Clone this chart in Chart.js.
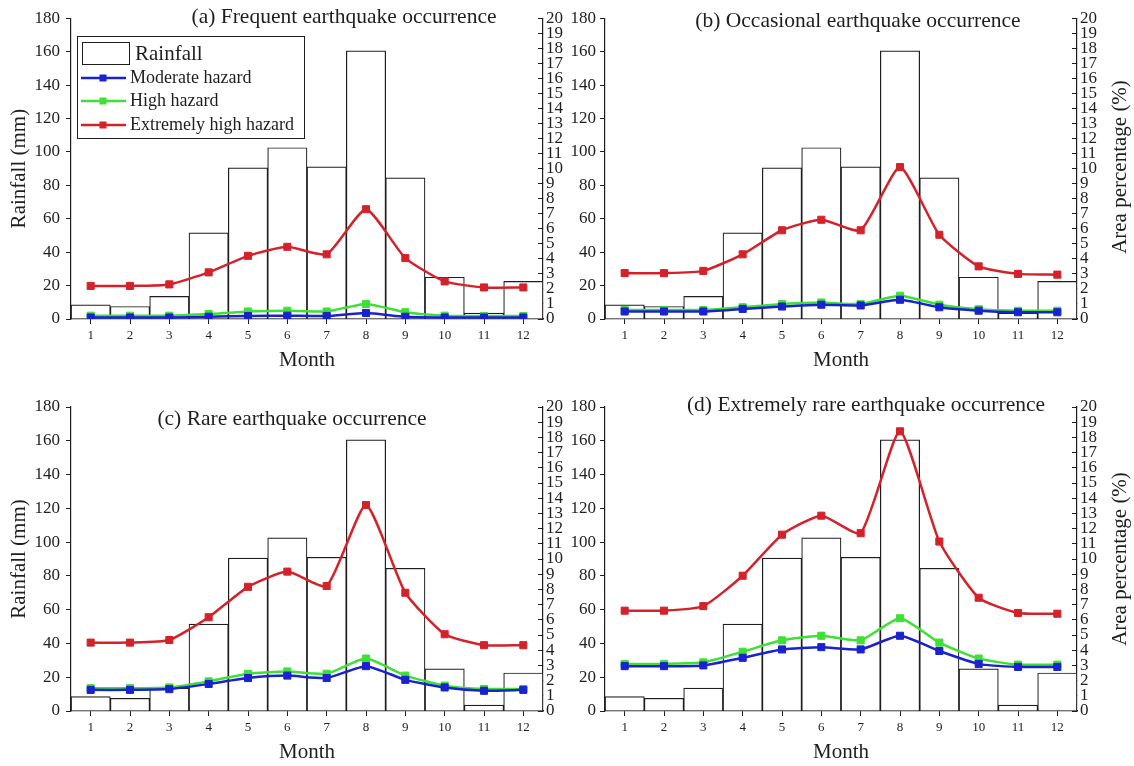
<!DOCTYPE html>
<html>
<head>
<meta charset="utf-8">
<script src="https://cdn.jsdelivr.net/npm/chart.js@4.4.0/dist/chart.umd.min.js"></script>
<style>
  body { margin: 0; background: #fff; }
  canvas { position: absolute; }
</style>
</head>
<body>
<canvas id="pa" width="567" height="383" style="left:0;top:0"></canvas>
<canvas id="pb" width="567" height="383" style="left:567px;top:0"></canvas>
<canvas id="pc" width="567" height="383" style="left:0;top:383px"></canvas>
<canvas id="pd" width="567" height="383" style="left:567px;top:383px"></canvas>
<script>
const FONT = '"Liberation Serif", "Times New Roman", serif';

const months = ['1', '2', '3', '4', '5', '6', '7', '8', '9', '10', '11', '12'];
// rainfall in mm (left axis)
const rainfall = [8.5, 7.5, 13.5, 51.5, 90.5, 102.5, 91, 160.5, 84.5, 25, 3.5, 22.5];

// area percentage (%) (right axis)
const moderateA = [0.1, 0.1, 0.1, 0.15, 0.2, 0.22, 0.2, 0.4, 0.15, 0.1, 0.1, 0.1];
const highA = [0.22, 0.22, 0.22, 0.33, 0.5, 0.55, 0.5, 1.0, 0.45, 0.22, 0.2, 0.2];
const extremeA = [2.2, 2.2, 2.3, 3.1, 4.2, 4.8, 4.3, 7.3, 4.05, 2.5, 2.1, 2.1];

const moderateB = [0.5, 0.5, 0.5, 0.67, 0.83, 0.95, 0.9, 1.28, 0.78, 0.55, 0.45, 0.45];
const highB = [0.6, 0.6, 0.6, 0.78, 1.0, 1.1, 1.0, 1.55, 0.95, 0.65, 0.55, 0.55];
const extremeB = [3.05, 3.05, 3.2, 4.3, 5.9, 6.6, 5.9, 10.1, 5.6, 3.5, 3.0, 2.95];

const moderateC = [1.39, 1.39, 1.44, 1.78, 2.17, 2.33, 2.17, 2.95, 2.05, 1.55, 1.33, 1.39];
const highC = [1.5, 1.5, 1.55, 1.95, 2.45, 2.6, 2.45, 3.45, 2.33, 1.67, 1.45, 1.45];
const extremeC = [4.5, 4.5, 4.67, 6.17, 8.17, 9.17, 8.22, 13.55, 7.78, 5.05, 4.33, 4.33];

const moderateD = [2.95, 2.95, 3.0, 3.5, 4.05, 4.2, 4.05, 4.95, 3.95, 3.1, 2.9, 2.9];
const highD = [3.1, 3.1, 3.2, 3.9, 4.65, 4.95, 4.65, 6.1, 4.5, 3.45, 3.05, 3.05];
const extremeD = [6.6, 6.6, 6.9, 8.9, 11.6, 12.85, 11.7, 18.4, 11.15, 7.45, 6.45, 6.4];

const BLUE = '#1a22d0';
const GREEN = '#3ee036';
const RED = '#d4222a';
const INK = '#1e1e1e';

// draws the boxed legend of panel (a) and free texts (panel titles, right axis title)
const extrasPlugin = {
  id: 'extras',
  afterDraw(chart, args, opts) {
    const ctx = chart.ctx;
    ctx.save();
    ctx.fillStyle = INK;
    ctx.textBaseline = 'middle';
    (opts.texts || []).forEach(t => {
      ctx.save();
      ctx.font = t.size + 'px ' + FONT;
      ctx.textAlign = 'center';
      ctx.translate(t.x, t.y);
      if (t.rot) ctx.rotate(t.rot);
      ctx.fillText(t.text, 0, 0);
      ctx.restore();
    });
    if (opts.legend) {
      const ds = chart.data.datasets;
      ctx.lineWidth = 1;
      ctx.strokeStyle = INK;
      ctx.fillStyle = '#fff';
      ctx.fillRect(77.5, 36.5, 227, 102);
      ctx.strokeRect(77.5, 36.5, 227, 102);
      ctx.strokeRect(82.5, 42.5, 47, 22);
      ctx.fillStyle = INK;
      ctx.textAlign = 'left';
      ctx.font = '21px ' + FONT;
      ctx.fillText(ds[0].label, 135, 54);
      ctx.font = '18px ' + FONT;
      [78, 101, 125].forEach((y, i) => {
        const d = ds[i + 1];
        ctx.strokeStyle = d.borderColor;
        ctx.lineWidth = 2.5;
        ctx.beginPath();
        ctx.moveTo(81, y);
        ctx.lineTo(126, y);
        ctx.stroke();
        ctx.fillStyle = d.borderColor;
        ctx.fillRect(99.5, y - 3.5, 7, 7);
        ctx.fillStyle = INK;
        ctx.fillText(d.label, 130, y);
      });
    }
    ctx.restore();
  }
};

function lineSet(label, data, color) {
  return {
    type: 'line', label, data, yAxisID: 'y2', order: 0,
    borderColor: color, backgroundColor: color,
    borderWidth: 2.5, tension: 0.18,
    pointStyle: 'rect', pointRadius: 5, pointBorderWidth: 1,
    pointBackgroundColor: color, pointBorderColor: color
  };
}

function makePanel(id, p) {
  new Chart(document.getElementById(id), {
    type: 'bar',
    data: {
      labels: months,
      datasets: [
        {
          type: 'bar', label: 'Rainfall', data: rainfall, yAxisID: 'y', order: 1,
          backgroundColor: '#fff', borderColor: INK, borderWidth: 1.2,
          barPercentage: 1, categoryPercentage: 1
        },
        lineSet('Moderate hazard', p.moderate, BLUE),
        lineSet('High hazard', p.high, GREEN),
        lineSet('Extremely high hazard', p.extreme, RED)
      ]
    },
    options: {
      responsive: false,
      animation: false,
      layout: { padding: { top: p.top, left: 0, right: 0, bottom: 0 } },
      plugins: {
        legend: { display: false },
        tooltip: { enabled: false },
        extras: { legend: p.legend, texts: p.texts }
      },
      scales: {
        x: {
          offset: true,
          grid: { drawOnChartArea: false, offset: false, tickLength: 5, color: INK },
          border: { color: INK, width: 1.2 },
          ticks: { font: { family: FONT, size: 13 }, color: INK, padding: 4, maxRotation: 0 },
          title: { display: true, text: 'Month', color: INK, font: { family: FONT, size: 21 }, padding: { top: 0, bottom: p.monthPad } },
          afterFit: s => { s.height = p.xH; }
        },
        y: {
          position: 'left', min: 0, max: 180,
          grid: { drawOnChartArea: false, tickLength: 5, color: INK },
          border: { color: INK, width: 1.2 },
          ticks: { stepSize: 20, autoSkip: false, font: { family: FONT, size: 17 }, color: INK, padding: p.leftPad },
          title: { display: p.leftTitle, text: 'Rainfall (mm)', color: INK, font: { family: FONT, size: 21 }, padding: { top: 7, bottom: 0 } },
          afterFit: s => { s.width = p.leftW; }
        },
        y2: {
          position: 'right', min: 0, max: 20,
          grid: { drawOnChartArea: false, tickLength: -5, color: INK },
          border: { color: INK, width: 1.2 },
          ticks: { stepSize: 1, autoSkip: false, font: { family: FONT, size: 17 }, color: INK, padding: 8 },
          afterFit: s => { s.width = p.rightW; }
        }
      }
    },
    plugins: [extrasPlugin]
  });
}

const rot = -Math.PI / 2;

makePanel('pa', {
  moderate: moderateA, high: highA, extreme: extremeA,
  top: 15, xH: 64, monthPad: 10, leftW: 71, leftPad: 6, rightW: 24, leftTitle: true, legend: true,
  texts: [{ text: '(a) Frequent earthquake occurrence', x: 344, y: 17, size: 21.5 }]
});
makePanel('pb', {
  moderate: moderateB, high: highB, extreme: extremeB,
  top: 15, xH: 64, monthPad: 10, leftW: 38, leftPad: 4, rightW: 57, leftTitle: false, legend: false,
  texts: [
    { text: '(b) Occasional earthquake occurrence', x: 291, y: 21, size: 21.5 },
    { text: 'Area percentage (%)', x: 553, y: 167, size: 21, rot }
  ]
});
makePanel('pc', {
  moderate: moderateC, high: highC, extreme: extremeC,
  top: 24, xH: 55, monthPad: 1, leftW: 71, leftPad: 6, rightW: 24, leftTitle: true, legend: false,
  texts: [{ text: '(c) Rare earthquake occurrence', x: 292, y: 36, size: 21.5 }]
});
makePanel('pd', {
  moderate: moderateD, high: highD, extreme: extremeD,
  top: 24, xH: 55, monthPad: 1, leftW: 38, leftPad: 4, rightW: 57, leftTitle: false, legend: false,
  texts: [
    { text: '(d) Extremely rare earthquake occurrence', x: 299, y: 22, size: 21.5 },
    { text: 'Area percentage (%)', x: 553, y: 176, size: 21, rot }
  ]
});
</script>
</body>
</html>
